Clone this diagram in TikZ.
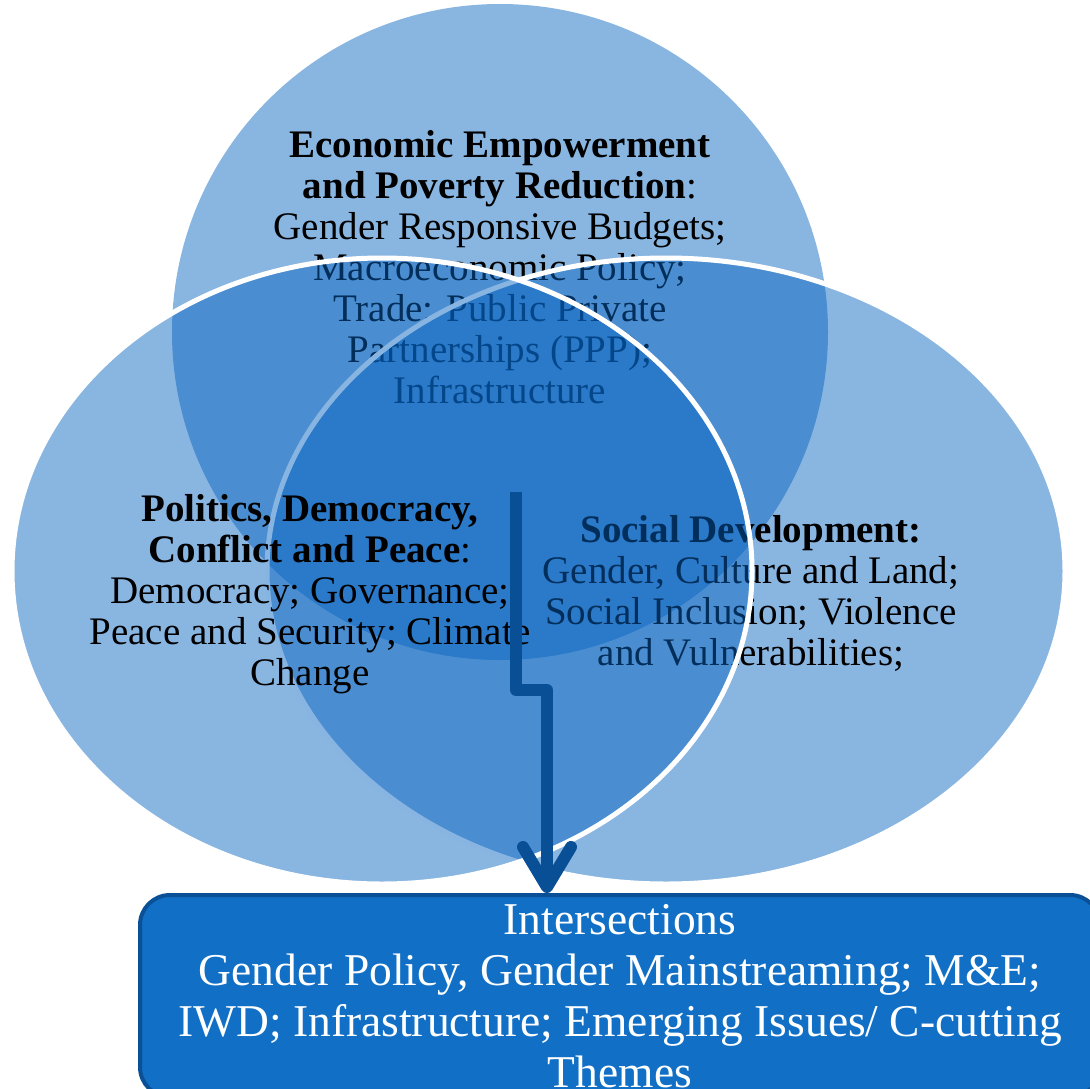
\documentclass[tikz,border=0pt]{standalone}
\usepackage{fontspec}
\setmainfont{Liberation Serif}
\usetikzlibrary{arrows.meta}
\definecolor{vennblue}{RGB}{6,99,192}
\definecolor{arrowblue}{RGB}{9,79,150}
\definecolor{boxblue}{RGB}{17,112,198}
\definecolor{boxedge}{RGB}{10,80,150}

\begin{document}
\begin{tikzpicture}[x=1pt,y=-1pt,
	vennset/.style={fill=vennblue,fill opacity=0.475},
	rim/.style={draw=white,line width=5pt},
	settext/.style={align=center,text=black,font=\fontsize{39}{41}\selectfont},
	interbox/.style={draw=boxedge,line width=4pt,fill=boxblue,rounded corners=30pt,
		minimum width=960pt,minimum height=202pt,text=white,align=center,
		font=\fontsize{45.5}{51}\selectfont},
	route/.style={draw=arrowblue,line width=12pt,line join=round,
		-{Straight Barb[length=40pt,width=48pt,line cap=round,line join=round]}}]
	\useasboundingbox (0,0) rectangle (1090,1088);
	% top set
	\fill[vennset] (500,332) circle [radius=328];
	\node[settext] (econ) at (500,267) {\textbf{Economic Empowerment}\\
		\textbf{and Poverty Reduction}:\\ Gender Responsive Budgets;\\
		Macroeconomic Policy;\\ Trade: Public Private\\ Partnerships (PPP);\\ Infrastructure};
	% right set
	\path[vennset,rim] (666,571) ellipse [x radius=399,y radius=313];
	\node[settext] (social) at (751,593) {\textbf{Social Development:}\\
		Gender, Culture and Land;\\ Social Inclusion; Violence\\ and Vulnerabilities;};
	% left set
	\path[vennset,rim] (382,571) ellipse [x radius=370,y radius=313];
	\node[settext] (politics) at (310,594) {\textbf{Politics, Democracy,}\\
		\textbf{Conflict and Peace}:\\ Democracy; Governance;\\ Peace and Security; Climate\\ Change};
	% intersections
	\node[interbox,anchor=north] (inter) at (620,893) {Intersections\\
		Gender Policy, Gender Mainstreaming; M\&E;\\
		IWD; Infrastructure; Emerging Issues/ C-cutting\\ Themes};
	\coordinate (start) at (516,492);
	\coordinate (bend) at (547,690);
	\draw[route] (start) |- (bend) -- (inter.north -| bend);
\end{tikzpicture}
\end{document}
